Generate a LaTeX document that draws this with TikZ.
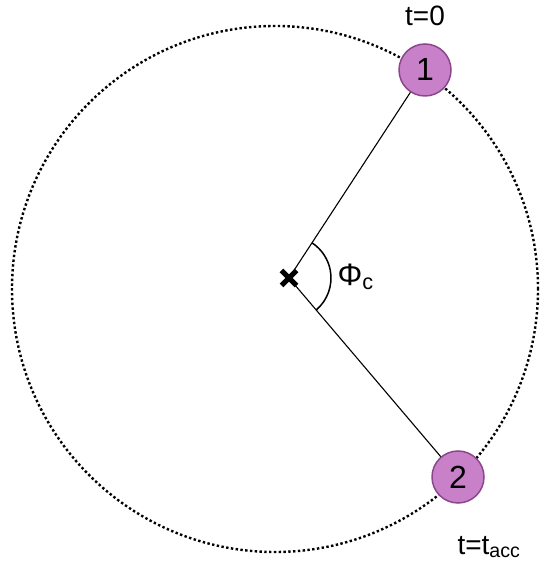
\documentclass[tikz,border=0pt]{standalone}
\usepackage{fontspec}
\setmainfont{Liberation Sans}
\usetikzlibrary{shapes.misc}
\definecolor{ptfill}{RGB}{200,128,200}
\definecolor{ptdraw}{RGB}{140,70,140}

\begin{document}
\begin{tikzpicture}[x=1pt,y=1pt,
  point/.style={circle,draw=ptdraw,fill=ptfill,line width=1.5pt,minimum size=52pt,inner sep=0pt,font=\fontsize{32}{38}\selectfont},
  lbl/.style={font=\fontsize{28}{33}\selectfont}]
  \useasboundingbox (0,0) rectangle (539,580);
  % Orbit
  \draw[line width=2.4pt,dash pattern=on 2.4pt off 2.4pt] (275,291) circle (263);
  % Centre mark
  \node[cross out,draw,line width=5pt,minimum size=10pt,inner sep=0pt] (c) at (289,302) {};
  % Two positions
  \node[point] (p1) at (425,510) {1};
  \node[point] (p2) at (458,103) {2};
  \draw[line width=1.1pt] (c.center) -- (p1);
  \draw[line width=1.1pt] (c.center) -- (p2);
  % Angle
  \draw[line width=1.5pt] (c.center) ++(-49.7:42pt) arc[start angle=-49.7,end angle=56.8,radius=42pt];
  \node[anchor=west,font=\fontsize{31}{36}\selectfont] (phi) at (334,303) {Φ\textsubscript{c}};
  % Times
  \node[lbl] (t0) at (425,564) {t=0};
  \node[lbl] (tacc) at (489,33) {t=t\textsubscript{acc}};
\end{tikzpicture}
\end{document}
